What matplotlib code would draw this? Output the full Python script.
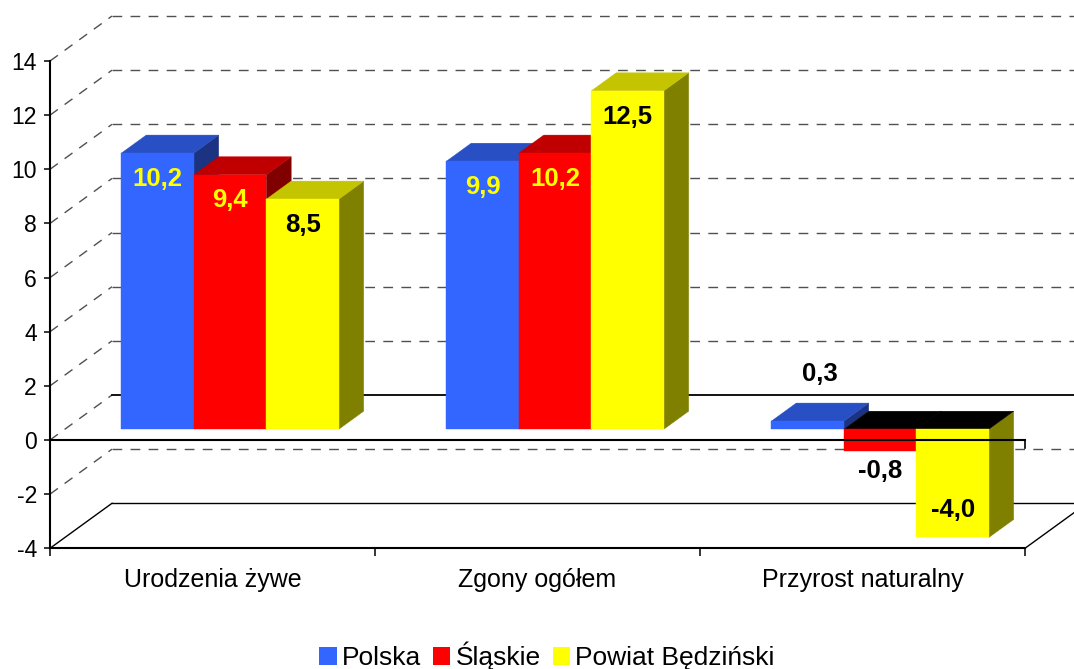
import matplotlib
matplotlib.use("Agg")
import matplotlib.pyplot as plt
from matplotlib.patches import Polygon, Patch

plt.rcParams['font.family'] = ['Liberation Sans', 'DejaVu Sans']

# dane
categories = ['Urodzenia żywe', 'Zgony ogółem', 'Przyrost naturalny']
series = ['Polska', 'Śląskie', 'Powiat Będziński']
polska = [10.2, 9.9, 0.3]
slaskie = [9.4, 10.2, -0.8]
bedzinski = [8.5, 12.5, -4.0]
yticks = [-4, -2, 0, 2, 4, 6, 8, 10, 12, 14]

front_colors = ['#3366FF', '#FF0000', '#FFFF00']
top_colors = ['#284FC4', '#C00000', '#C4C400']
side_colors = ['#1B3380', '#800000', '#808000']
text_colors = ['#FFFF00', '#FFFF00', '#000000']

# rzut ukośny: głębokość 0..1 -> przesunięcie w jednostkach osi
DX = 62 / 325.0
DV = 45 / 27.07
D0, D1 = 0.24, 0.64
BW = 0.223
X_START = 0.174


def proj(x, v, d):
    return (x + d * DX, v + d * DV)


fig = plt.figure(figsize=(10.74, 6.69), dpi=100)
ax = fig.add_axes([0, 0, 1, 1])
ax.set_xlim(-50 / 325.0, 1024 / 325.0)
ax.set_ylim((440 - 669) / 27.07, 440 / 27.07)

# siatka: ściana boczna i tylna
for t in yticks:
    solid = t == -4
    ls = '-' if solid else (0, (7, 6))
    col = 'black' if solid else '#505050'
    xa, va = proj(0, t, 0)
    xb, vb = proj(0, t, 1)
    ax.plot([xa, xb], [va, vb], ls=ls, color=col, lw=1, zorder=1)
    if t != 0:
        xc, vc = proj(3, t, 1)
        ax.plot([xb, xc], [vb, vc], ls=ls, color=col, lw=1, zorder=1)
# tylna linia zera
xb, vb = proj(0, 0, 1)
xc, vc = proj(3, 0, 1)
ax.plot([xb, xc], [vb, vc], color='black', lw=1.3, zorder=1)
# prawa krawędź podłogi
xa, va = proj(3, -4, 0)
xb, vb = proj(3, -4, 1)
ax.plot([xa, xb], [va, vb], color='black', lw=1, zorder=1)

# słupki
data = [polska, slaskie, bedzinski]
for c in range(len(categories)):
    for s, vals in enumerate(data):
        v = vals[c]
        x0 = c + X_START + s * BW
        x1 = x0 + BW
        lo, hi = min(v, 0), max(v, 0)
        front = [proj(x0, lo, D0), proj(x1, lo, D0), proj(x1, hi, D0), proj(x0, hi, D0)]
        top = [proj(x0, hi, D0), proj(x1, hi, D0), proj(x1, hi, D1), proj(x0, hi, D1)]
        side = [proj(x1, lo, D0), proj(x1, lo, D1), proj(x1, hi, D1), proj(x1, hi, D0)]
        tc = 'black' if v < 0 else top_colors[s]
        for poly, fc in [(side, side_colors[s]), (top, tc), (front, front_colors[s])]:
            ax.add_patch(Polygon(poly, closed=True, fc=fc, ec=fc, lw=0.3, zorder=3))

        # etykiety wartości
        txt = ('%.1f' % v).replace('.', ',')
        xm = (x0 + x1) / 2 + D0 * DX
        if v >= 1:
            ty, col = v - 0.95, text_colors[s]
        elif v >= 0:
            xm = (x0 + x1) / 2 + (D0 + D1) / 2 * DX
            ty, col = v + 1.75, 'black'
        elif v > -1:
            ty, col = v - 0.75, 'black'
        else:
            ty, col = v + 1.0, text_colors[s]
        ty += D0 * DV
        ax.text(xm, ty, txt, ha='center', va='center', fontsize=18.5,
                fontweight='bold', color=col, zorder=6)

# przednia linia zera (przed słupkami)
ax.plot([0, 3], [0, 0], color='black', lw=1.5, zorder=5)
ax.plot([3, 3], [0, -0.3], color='black', lw=1.2, zorder=5)

# osie
for sp in ['top', 'right']:
    ax.spines[sp].set_visible(False)
ax.spines['left'].set_position(('data', 0))
ax.spines['left'].set_bounds(-4, 14)
ax.spines['bottom'].set_position(('data', -4))
ax.spines['bottom'].set_bounds(0, 3)
for sp in ['left', 'bottom']:
    ax.spines[sp].set_linewidth(1.5)
    ax.spines[sp].set_zorder(5)

ax.set_yticks(yticks)
ax.set_yticklabels([str(t) for t in yticks])
ax.tick_params(axis='y', direction='out', length=4.5, width=1.1, pad=5, labelsize=16.5)
ax.set_xticks([0, 1, 2, 3])
ax.set_xticklabels([])
ax.tick_params(axis='x', which='major', direction='out', length=6, width=1.1)
ax.set_xticks([0.5, 1.5, 2.5], minor=True)
ax.set_xticklabels(categories, minor=True)
ax.tick_params(axis='x', which='minor', length=0, pad=14, labelsize=18)

handles = [Patch(facecolor=front_colors[i], edgecolor='none', label=series[i])
           for i in range(len(series))]
ax.legend(handles=handles, loc='center', bbox_to_anchor=(547 / 1074.0, 1 - 656 / 669.0),
          ncol=3, frameon=False, fontsize=19, handlelength=0.66, handleheight=0.66,
          handletextpad=0.2, columnspacing=0.45, borderpad=0, borderaxespad=0)

fig.savefig('out.png', dpi=100)
